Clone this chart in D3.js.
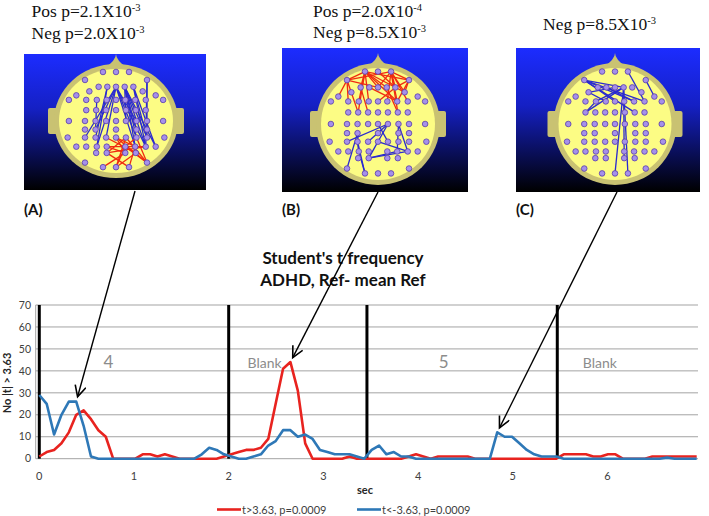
<!DOCTYPE html>
<html>
<head>
<meta charset="utf-8">
<script src="https://cdn.jsdelivr.net/npm/d3@7"></script>
<style>
body{margin:0;background:#fff}
svg{display:block}
</style>
</head>
<body>
<svg id="fig" width="709" height="516"></svg>
<script>
// sampling step of the t-count series (sec)
var step = 0.078
var redSeries = [1,3,4,7,12,20,22,18,13,10, 0,0,0,0,2,2,1,2,1,0, 0,0,0,0,0,1,2,3,4,4,
	5,9,25,41,44,31,7,0,0,0, 0,0,1,0,0,0,0,0,0,0, 1,2,1,0,1,1,1,1,1,0, 0,0,0,0,0,0,0,0,0,0,
	0,2,2,2,2,1,1,2,2,0, 0,0,0,1,1,1,1,1,1,1]
var blueSeries = [29,25,11,20,26,26,15,1,0,0, 0,0,0,0,0,0,0,0,0,0, 0,0,2,5,4,2,1,0,0,1,
	2,6,8,13,13,10,11,9,4,3, 2,2,2,1,0,4,6,2,3,1, 1,0,0,0,0,0,0,0,0,0, 0,0,12,10,10,7,4,2,1,1,
	1,0,0,0,0,0,0,0,0,0, 0,0,0,0,0,0.5,0,0,0,0]
var xTicks = [0,1,2,3,4,5,6]
var yTicks = [0,10,20,30,40,50,60,70]
var bounds = [0,2,3.46,5.47]
var segNames = ["4","Blank","5","Blank"]
var segAt = [0.73,2.38,4.27,5.92]
var legendNames = ["t>3.63, p=0.0009","t<-3.63, p=0.0009"]
var titleLines = ["Student's t frequency","ADHD, Ref- mean Ref"]
var panelNames = ["(A)","(B)","(C)"]
var panelStats = [
	[["Pos p=2.1X10","-3"],["Neg p=2.0X10","-3"]],
	[["Pos p=2.0X10","-4"],["Neg p=8.5X10","-3"]],
	[["Neg p=8.5X10","-3"]]
]
// arrow from each panel to [series, sample index]
var arrowTargets = [["blue",5],["red",34],["blue",62]]

// electrode rows on the scalp (v: front -1 .. back 1, u: left -1 .. right 1)
var rowV = [-0.86,-0.72,-0.6,-0.52,-0.45,-0.37,-0.19,0,0.15,0.29,0.45,0.56,0.73,0.81]
var rowU = [
	[-0.21,0,0.21],
	[-0.5,0.5],
	[-0.28,-0.14,0,0.14,0.28],
	[-0.43,0.43],
	[-0.64,0.64],
	[-0.76,-0.48,-0.31,-0.15,0,0.15,0.31,0.48,0.76],
	[-0.48,-0.32,-0.16,0,0.16,0.32,0.48],
	[-0.76,-0.5,-0.33,-0.16,0,0.16,0.33,0.5,0.76],
	[-0.5,-0.33,0,0.33,0.5],
	[-0.78,-0.5,-0.33,-0.16,0,0.16,0.33,0.5,0.78],
	[-0.64,-0.48,-0.31,-0.15,0.15,0.31,0.48,0.64],
	[-0.32,-0.15,0.15,0.32],
	[-0.5,0.5],
	[-0.21,0,0.21]
]
// links "row.col-row.col"
var posLinks = [
	["9.4-11.2","9.4-10.5","9.5-11.1","9.5-12.1","10.4-13.1","10.4-12.1","10.5-13.2","11.1-10.6","11.2-13.0","9.3-11.3",
	 "10.3-11.2","9.6-12.1","11.1-13.2","10.4-9.6","11.3-13.1","9.4-12.1","10.3-10.6","9.5-13.1"],
	["0.0-1.0","0.0-2.0","0.0-2.2","0.0-2.3","0.0-5.2","0.0-5.3","0.0-3.1","0.0-5.6","0.2-2.2","0.2-2.4","0.2-1.1",
	 "0.2-5.5","0.2-5.6","0.2-3.1","0.2-5.7","1.0-5.1","1.0-6.1","1.0-4.0","1.0-2.2","1.1-2.4","1.1-5.6","1.1-3.1",
	 "2.0-6.2","2.1-5.6","0.1-2.4","1.0-0.2","0.0-1.1","2.4-5.4","2.3-6.5","0.0-6.1","0.2-6.5"],
	[]
]
var negLinks = [
	["2.2-9.1","2.2-10.2","2.2-8.1","2.2-9.3","2.2-10.5","2.2-9.6","2.2-10.6","2.3-10.5","2.3-9.7","2.3-10.6","2.3-10.7",
	 "2.3-9.6","2.3-8.3","2.1-10.2","2.1-9.2","2.4-10.7","2.4-9.7","2.4-10.6","1.1-9.7","1.1-10.6","2.3-7.5","2.2-7.6","5.2-8.1"],
	["8.1-10.2","8.1-12.0","9.2-10.2","10.2-13.0","9.2-13.0","7.5-9.3","7.5-11.1","7.6-10.5","10.5-11.1","11.1-10.6",
	 "7.6-10.6","9.1-7.5","10.6-9.4","7.4-9.5"],
	["1.0-5.7","1.0-5.6","1.0-6.5","1.0-2.3","1.0-5.4","3.0-5.3","3.0-2.2","2.1-5.6","2.3-13.1","2.3-13.2","2.3-11.2",
	 "2.3-6.0","2.3-5.2","0.2-5.7","1.1-4.1","6.0-5.2"]
]

var svg = d3.select("#fig")
var chart = {left:35.7, right:698, top:305, bottom:458.7}
var x = d3.scaleLinear().domain([-0.038,6.956]).range([chart.left,chart.right])
var y = d3.scaleLinear().domain([0,70]).range([chart.bottom,chart.top])
var colors = {red:"#e8231f", blue:"#2e78b7"}

function drawChart(){
	var g = svg.append("g")
	g.selectAll(".grid").data(yTicks).enter().append("line")
		.attr("x1",chart.left).attr("x2",chart.right)
		.attr("y1",function(d){return y(d)}).attr("y2",function(d){return y(d)})
		.attr("stroke","#a3a3a3").attr("stroke-width",1)
	g.append("line").attr("x1",chart.left).attr("x2",chart.left).attr("y1",y(0)).attr("y2",y(70))
		.attr("stroke","#a3a3a3")
	g.selectAll(".ylab").data(yTicks).enter().append("text")
		.attr("x",31).attr("y",function(d){return y(d)}).attr("dy","0.35em")
		.attr("text-anchor","end").attr("font-family","Lato").attr("font-size",10.5).attr("fill","#404040")
		.text(function(d){return d})
	g.selectAll(".xlab").data(xTicks).enter().append("text")
		.attr("x",function(d){return x(d)}).attr("y",479.5)
		.attr("text-anchor","middle").attr("font-family","Lato").attr("font-size",11).attr("fill","#404040")
		.text(function(d){return d})
	g.selectAll(".bound").data(bounds).enter().append("line")
		.attr("x1",function(d){return x(d)}).attr("x2",function(d){return x(d)})
		.attr("y1",y(0)).attr("y2",y(70)).attr("stroke","#000").attr("stroke-width",3)
	g.selectAll(".seg").data(segNames).enter().append("text")
		.attr("x",function(d,i){return x(segAt[i])}).attr("y",367.5)
		.attr("text-anchor","middle").attr("font-family","Lato").attr("fill","#8c8c8c")
		.attr("font-size",function(d){return d=="Blank" ? 14:17})
		.text(function(d){return d})

	var line = d3.line().x(function(d,i){return x(i*step)}).y(function(d){return y(d)})
	g.append("path").attr("d",line(redSeries)).attr("fill","none").attr("stroke",colors.red)
		.attr("stroke-width",2.6).attr("stroke-linejoin","round")
	g.append("path").attr("d",line(blueSeries)).attr("fill","none").attr("stroke",colors.blue)
		.attr("stroke-width",2.6).attr("stroke-linejoin","round")

	g.append("text").attr("transform","translate(10.5,383) rotate(-90)").attr("text-anchor","middle")
		.attr("font-family","Lato").attr("font-weight","bold").attr("font-size",11).attr("fill","#262626")
		.text("No |t| > 3.63")
	g.append("text").attr("x",365).attr("y",494).attr("text-anchor","middle")
		.attr("font-family","Lato").attr("font-weight","bold").attr("font-size",11).attr("fill","#262626")
		.text("sec")
	g.selectAll(".title").data(titleLines).enter().append("text")
		.attr("x",343).attr("y",function(d,i){return 264+i*22}).attr("text-anchor","middle")
		.attr("font-family","Lato").attr("font-weight","bold").attr("font-size",17).attr("fill","#111")
		.text(function(d){return d})

	var lg = g.selectAll(".leg").data(legendNames).enter().append("g")
		.attr("transform",function(d,i){return "translate(" + (217+i*140) + ",509.5)"})
	lg.append("line").attr("x1",0).attr("x2",24).attr("stroke",function(d,i){return i ? colors.blue:colors.red})
		.attr("stroke-width",2.6)
	lg.append("text").attr("x",25).attr("y",4).attr("font-family","Lato").attr("font-size",11).attr("fill","#404040")
		.text(function(d){return d})
}

function electrodes(){
	var list = []
	rowU.forEach(function(r,i){
		r.forEach(function(u,j){list.push({key:i+"."+j, u:u, v:rowV[i]})})
	})
	return list
}

function drawHead(p,k){
	var g = svg.append("g")
	var grad = svg.append("defs").append("linearGradient").attr("id","bg"+k)
		.attr("x1",0).attr("x2",0).attr("y1",0).attr("y2",1)
	grad.append("stop").attr("offset","0%").attr("stop-color","#1c2cff")
	grad.append("stop").attr("offset","40%").attr("stop-color","#1520c4")
	grad.append("stop").attr("offset","100%").attr("stop-color","#000")
	g.append("rect").attr("x",p.x).attr("y",p.y).attr("width",p.w).attr("height",p.h).attr("fill","url(#bg"+k+")")

	var tan = "#c9c272"
	g.append("rect").attr("x",p.cx-p.rx-6).attr("y",p.cy-13).attr("width",12).attr("height",26).attr("rx",2).attr("fill",tan)
	g.append("rect").attr("x",p.cx+p.rx-6).attr("y",p.cy-13).attr("width",12).attr("height",26).attr("rx",2).attr("fill",tan)
	g.append("path").attr("d","M" + (p.cx-11) + "," + (p.cy-p.ry+4) + " Q" + p.cx + "," + (p.cy-p.ry-4) + " " + p.cx + "," + (p.cy-p.ry-10)
		+ " Q" + p.cx + "," + (p.cy-p.ry-4) + " " + (p.cx+11) + "," + (p.cy-p.ry+4) + "Z").attr("fill",tan)
	g.append("ellipse").attr("cx",p.cx).attr("cy",p.cy).attr("rx",p.rx).attr("ry",p.ry).attr("fill",tan)
	g.append("ellipse").attr("cx",p.cx).attr("cy",p.cy).attr("rx",p.rx-5).attr("ry",p.ry-5).attr("fill","#fcfc84")

	var ex = d3.scaleLinear().domain([-1,1]).range([p.cx-p.rx,p.cx+p.rx])
	var ey = d3.scaleLinear().domain([-1,1]).range([p.cy-p.ry,p.cy+p.ry])
	var pos = {}
	electrodes().forEach(function(e){pos[e.key] = e})
	function addLinks(links,col){
		g.selectAll(null).data(links).enter().append("line")
			.attr("x1",function(d){return ex(pos[d.split("-")[0]].u)})
			.attr("y1",function(d){return ey(pos[d.split("-")[0]].v)})
			.attr("x2",function(d){return ex(pos[d.split("-")[1]].u)})
			.attr("y2",function(d){return ey(pos[d.split("-")[1]].v)})
			.attr("stroke",col).attr("stroke-width",1.3)
	}
	addLinks(negLinks[k],"#2a2ad0")
	addLinks(posLinks[k],"#f02a10")
	g.selectAll(null).data(electrodes()).enter().append("circle")
		.attr("cx",function(d){return ex(d.u)}).attr("cy",function(d){return ey(d.v)}).attr("r",2.8)
		.attr("fill","#a590ea").attr("stroke","#5a3ea8").attr("stroke-width",0.8)

	panelStats[k].forEach(function(s,i){
		var t = g.append("text").attr("x",p.tx).attr("y",p.ty+i*21.5)
			.attr("font-family","Liberation Serif").attr("font-size",17.5).attr("fill","#111")
		t.append("tspan").text(s[0])
		t.append("tspan").attr("dy",-6).attr("font-size",10.5).text(s[1])
	})
	g.append("text").attr("x",p.x).attr("y",215).attr("font-family","Lato").attr("font-weight","bold")
		.attr("font-size",15).attr("fill","#111").text(panelNames[k])
}

function drawArrows(starts){
	svg.append("defs").append("marker").attr("id","head").attr("markerUnits","userSpaceOnUse")
		.attr("markerWidth",16).attr("markerHeight",16).attr("refX",12).attr("refY",6).attr("orient","auto")
		.append("path").attr("d","M1,0.5 L12,6 L1,11.5").attr("fill","none").attr("stroke","#000").attr("stroke-width",1.6)
	arrowTargets.forEach(function(t,i){
		var data = t[0]=="red" ? redSeries:blueSeries
		var tx = x(t[1]*step), ty = y(data[t[1]])
		var dx = starts[i][0]-tx, dy = starts[i][1]-ty, len = Math.sqrt(dx*dx+dy*dy)
		svg.append("line").attr("x1",starts[i][0]).attr("y1",starts[i][1])
			.attr("x2",tx+dx/len*5).attr("y2",ty+dy/len*5)
			.attr("stroke","#000").attr("stroke-width",1.4).attr("marker-end","url(#head)")
	})
}

var panels = [
	{x:24, y:54, w:182, h:136, cx:116, cy:121, rx:62, ry:57, tx:31.5, ty:17},
	{x:282, y:48, w:186, h:144, cx:378, cy:124, rx:62, ry:61, tx:313, ty:16.5},
	{x:516, y:48, w:184, h:144, cx:615, cy:124, rx:61.5, ry:61, tx:543, ty:29.5}
]
drawChart()
panels.forEach(function(p,k){drawHead(p,k)})
drawArrows([[135,191],[378,192],[617,192]])
</script>
</body>
</html>
